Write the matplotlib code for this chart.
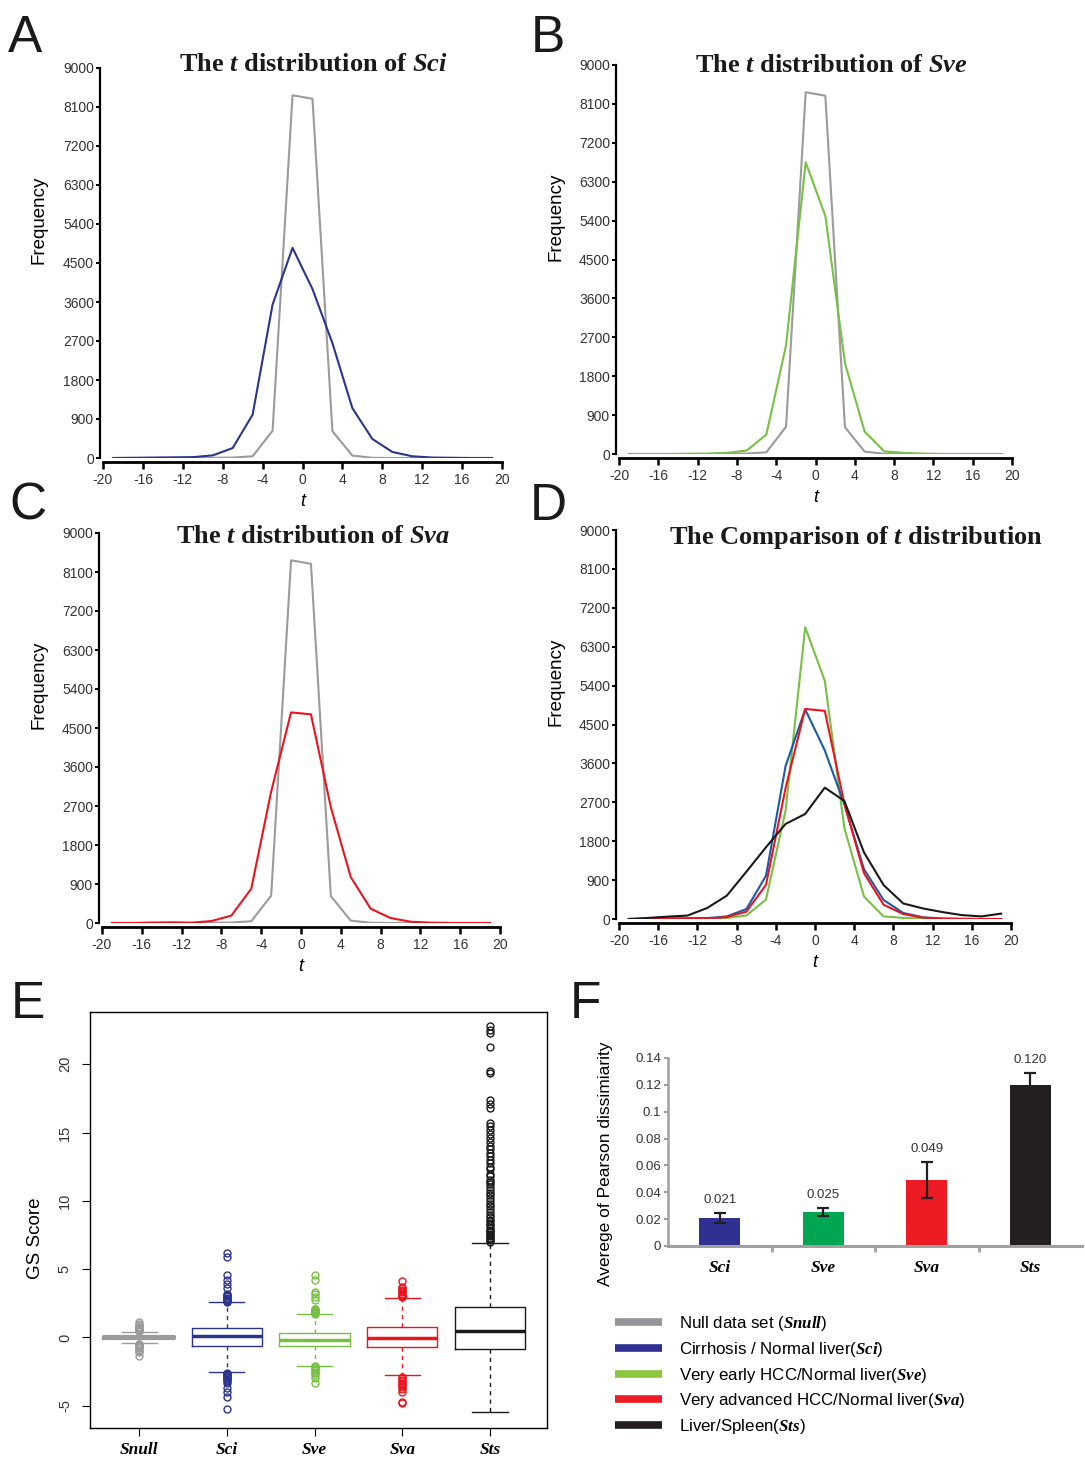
import matplotlib
matplotlib.use('Agg')
import matplotlib.pyplot as plt
from matplotlib.lines import Line2D

# global style
plt.rcParams['font.family'] = 'Liberation Sans'
plt.rcParams['axes.unicode_minus'] = False
plt.rcParams['mathtext.fontset'] = 'custom'
plt.rcParams['mathtext.rm'] = 'Liberation Serif:weight=bold'
plt.rcParams['mathtext.it'] = 'Liberation Serif:style=italic:weight=bold'
plt.rcParams['mathtext.bf'] = 'Liberation Serif:weight=bold'

# t distribution bins (bin centres)
tBins = [-19, -17, -15, -13, -11, -9, -7, -5, -3, -1, 1, 3, 5, 7, 9, 11, 13, 15, 17, 19]
freqNull = [0, 0, 0, 0, 0, 5, 10, 40, 630, 8370, 8290, 620, 55, 5, 0, 0, 0, 0, 0, 0]
freqSci = [0, 5, 10, 15, 20, 60, 230, 1000, 3540, 4850, 3900, 2650, 1150, 440, 140, 40, 10, 5, 0, 0]
freqSve = [0, 0, 0, 5, 10, 25, 80, 450, 2510, 6750, 5510, 2100, 520, 60, 25, 8, 0, 0, 0, 0]
freqSva = [0, 0, 10, 15, 8, 45, 170, 790, 3030, 4860, 4815, 2670, 1060, 330, 115, 30, 8, 0, 0, 0]
freqSts = [0, 25, 55, 80, 255, 540, 1095, 1660, 2200, 2430, 3040, 2730, 1540, 785, 360, 245, 160, 90, 60, 125]

tTicks = [-20, -16, -12, -8, -4, 0, 4, 8, 12, 16, 20]
freqTicks = [0, 900, 1800, 2700, 3600, 4500, 5400, 6300, 7200, 8100, 9000]

# GS score box statistics
gsNames = ['Snull', 'Sci', 'Sve', 'Sva', 'Sts']
gsMedian = [0.0, 0.12, -0.2, -0.02, 0.46]
gsQ1 = [-0.05, -0.61, -0.66, -0.68, -0.85]
gsQ3 = [0.05, 0.68, 0.32, 0.76, 2.24]
gsWhisLo = [-0.4, -2.54, -2.07, -2.76, -5.49]
gsWhisHi = [0.4, 2.56, 1.71, 2.9, 6.9]
gsFliers = [
    [0.45, 0.5, 0.55, 0.6, 0.65, 0.7, 0.75, 0.8, 0.9, 1.0, 1.1,
     -0.45, -0.5, -0.55, -0.6, -0.65, -0.7, -0.8, -0.9, -1.0, -1.1, -1.35],
    [2.6, 2.65, 2.7, 2.75, 2.8, 2.85, 2.9, 3.0, 3.05, 3.1, 3.2, 3.63, 3.88, 4.2, 4.56, 5.88, 6.2,
     -2.6, -2.65, -2.7, -2.75, -2.8, -2.9, -3.0, -3.05, -3.1, -3.2, -3.37, -3.73, -3.98, -4.34, -5.24],
    [1.75, 1.8, 1.85, 1.9, 1.95, 2.0, 2.05, 2.1, 2.73, 2.98, 3.2, 3.34, 4.2, 4.56,
     -2.1, -2.15, -2.2, -2.3, -2.4, -2.5, -2.6, -2.75, -3.0, -3.37],
    [2.95, 3.0, 3.05, 3.1, 3.2, 3.3, 3.4, 3.5, 3.6, 3.7, 4.12,
     -2.9, -3.0, -3.1, -3.2, -3.3, -3.4, -3.5, -3.6, -3.8, -4.0, -4.7, -4.83],
    [7.0, 7.1, 7.2, 7.3, 7.4, 7.5, 7.6, 7.7, 7.8, 7.9, 8.0, 8.2, 8.3, 8.5, 8.6, 8.8, 9.0, 9.2,
     9.4, 9.6, 9.8, 10.0, 10.2, 10.4, 10.6, 10.8, 11.0, 11.2, 11.4, 11.5, 11.8, 12.0, 12.3, 12.5,
     12.8, 13.0, 13.3, 13.5, 13.8, 14.0, 14.3, 14.6, 14.9, 15.2, 15.5, 15.7, 16.8, 17.1, 17.4,
     19.4, 19.5, 21.3, 22.3, 22.5, 22.8],
]
gsTicks = [-5, 0, 5, 10, 15, 20]

# Pearson dissimilarity bars
barNames = ['Sci', 'Sve', 'Sva', 'Sts']
barValues = [0.021, 0.025, 0.049, 0.120]
barErrors = [0.0038, 0.003, 0.0135, 0.0085]
barTicks = [0, 0.02, 0.04, 0.06, 0.08, 0.1, 0.12, 0.14]
barTickLabels = ['0', '0.02', '0.04', '0.06', '0.08', '0.1', '0.12', '0.14']

legendLabels = ['Null data set ($\\mathit{Snull}$)',
                'Cirrhosis / Normal liver($\\mathit{Sci}$)',
                'Very early HCC/Normal liver($\\mathit{Sve}$)',
                'Very advanced HCC/Normal liver($\\mathit{Sva}$)',
                'Liver/Spleen($\\mathit{Sts}$)']

# colours
cNull = '#9b9b9b'
cSci = '#2b3590'
cSciD = '#1a5aa8'
cSve = '#78c043'
cSva = '#e8141e'
cSts = '#1a1a1a'
textGray = '#333333'

W, H = 1085, 1460
fig = plt.figure(figsize=(W / 100, H / 100), dpi=100)


def px(left, top, right, bottom):
    return [left / W, 1 - bottom / H, (right - left) / W, (bottom - top) / H]


def plotTPanel(rect, series, title, titleX, titleY):
    ax = fig.add_axes(rect)
    for y, c in series:
        ax.plot(tBins, y, color=c, linewidth=1.5)
    ax.set_xlim(-20, 20)
    ax.set_ylim(0, 9000)
    ax.spines['top'].set_visible(False)
    ax.spines['right'].set_visible(False)
    ax.spines['left'].set_position(('outward', 2.5))
    ax.spines['bottom'].set_position(('outward', 3))
    ax.spines['left'].set_linewidth(1.6)
    ax.spines['bottom'].set_linewidth(2.0)
    ax.set_xticks(tTicks)
    ax.set_xticklabels([str(v) for v in tTicks])
    ax.set_yticks(freqTicks)
    ax.set_yticklabels([str(v) for v in freqTicks])
    ax.tick_params(axis='y', direction='out', length=3, width=1.4, labelsize=10,
                   pad=1, labelcolor=textGray)
    ax.tick_params(axis='x', direction='out', length=5, width=1.8, labelsize=10,
                   pad=3, labelcolor=textGray)
    ax.set_ylabel('Frequency', fontsize=13.5)
    ax.yaxis.set_label_coords(-0.138, 0.61)
    ax.set_xlabel('t', fontsize=13, fontstyle='italic')
    ax.xaxis.set_label_coords(0.5, -0.09)
    ax.text(titleX, titleY, title, transform=ax.transAxes, ha='center', va='center',
            fontsize=19, family='Liberation Serif', weight='bold', color='#1a1a1a')
    return ax


plotTPanel(px(103, 68, 502, 458), [(freqNull, cNull), (freqSci, cSci)],
           'The $\\mathit{t}$ distribution of $\\mathit{Sci}$', 0.526, 1.008)
plotTPanel(px(619, 65, 1012, 454), [(freqNull, cNull), (freqSve, cSve)],
           'The $\\mathit{t}$ distribution of $\\mathit{Sve}$', 0.54, 1.0)
plotTPanel(px(102, 533, 500, 923), [(freqNull, cNull), (freqSva, cSva)],
           'The $\\mathit{t}$ distribution of $\\mathit{Sva}$', 0.531, 0.99)
plotTPanel(px(619, 530, 1011, 919),
           [(freqSve, cSve), (freqSci, cSciD), (freqSva, cSva), (freqSts, cSts)],
           'The Comparison of $\\mathit{t}$ distribution', 0.605, 0.982)

# E: box plot of GS score
axE = fig.add_axes(px(90, 1012, 547, 1428))
boxColors = [cNull, cSci, cSve, cSva, cSts]
for i, name in enumerate(gsNames):
    stats = [{'med': gsMedian[i], 'q1': gsQ1[i], 'q3': gsQ3[i],
              'whislo': gsWhisLo[i], 'whishi': gsWhisHi[i],
              'fliers': gsFliers[i], 'label': name}]
    c = boxColors[i]
    boxLw = 3.0 if i == 0 else 1.0
    axE.bxp(stats, positions=[i + 1], widths=0.8, capwidths=0.4,
            boxprops=dict(color=c, linewidth=boxLw),
            medianprops=dict(color=c, linewidth=2.5),
            whiskerprops=dict(color=c, linewidth=1.0, linestyle=(0, (3, 3))),
            capprops=dict(color=c, linewidth=1.0),
            flierprops=dict(marker='o', markerfacecolor='none', markeredgecolor=c,
                            markersize=5, markeredgewidth=1.0))
axE.set_xlim(0.44, 5.65)
axE.set_ylim(-6.63, 23.83)
axE.set_xticks([1, 2, 3, 4, 5])
axE.set_xticklabels(gsNames, family='Liberation Serif', weight='bold', style='italic',
                    fontsize=12.5)
axE.set_yticks(gsTicks)
axE.set_yticklabels([str(v) for v in gsTicks], rotation=90, va='center')
axE.tick_params(axis='y', length=6, pad=7, labelsize=10.5, labelcolor=textGray)
axE.tick_params(axis='x', length=6, pad=4)
for s in axE.spines.values():
    s.set_linewidth(1.0)
axE.set_ylabel('GS Score', fontsize=13.5)
axE.yaxis.set_label_coords(-0.1, 0.457)

# F: bar chart of Pearson dissimilarity
axF = fig.add_axes(px(668, 1058, 1082, 1246))
barColors = ['#2e3192', '#00a651', '#ed1c24', '#231f20']
xF = list(range(len(barNames)))
axF.bar(xF, barValues, width=0.4, color=barColors, yerr=barErrors,
        error_kw=dict(ecolor='#231f20', elinewidth=1.6, capsize=4, capthick=1.6))
for x, v, e in zip(xF, barValues, barErrors):
    axF.annotate('%.3f' % v, (x, v + e), xytext=(0, 5), textcoords='offset points',
                 ha='center', va='bottom', fontsize=9.5, color=textGray)
axF.set_xlim(-0.5, 3.5)
axF.set_ylim(0, 0.14)
axF.spines['top'].set_visible(False)
axF.spines['right'].set_visible(False)
axF.spines['left'].set_color('#a0a0a0')
axF.spines['bottom'].set_color('#a0a0a0')
axF.spines['left'].set_linewidth(1.8)
axF.spines['bottom'].set_linewidth(2.2)
axF.set_yticks(barTicks)
axF.set_yticklabels(barTickLabels)
axF.tick_params(axis='y', length=3, width=1.5, color='#a0a0a0', pad=2,
                labelsize=9.5, labelcolor=textGray)
axF.set_xticks(xF)
axF.set_xticklabels(barNames, family='Liberation Serif', weight='bold', style='italic',
                    fontsize=12.5)
axF.tick_params(axis='x', length=0, pad=10)
axF.set_xticks([0.5, 1.5, 2.5], minor=True)
axF.tick_params(axis='x', which='minor', length=4, width=2, color='#a0a0a0')
axF.set_ylabel('Averege of Pearson dissimiarity', fontsize=12.5)
axF.yaxis.set_label_coords(-0.133, 0.44)

# legend
legendColors = ['#939598', '#2e3192', '#8dc63f', '#ed1c24', '#231f20']
handles = [Line2D([0], [0], color=c, linewidth=5.5, solid_capstyle='butt') for c in legendColors]
fig.legend(handles, legendLabels, loc='upper left', bbox_to_anchor=(615 / W, 1 - 1314 / H),
           frameon=False, fontsize=12.2, handlelength=2.8, handletextpad=0.95,
           labelspacing=0.4, borderaxespad=0, borderpad=0)

# panel letters
for letter, x, y in [('A', 8, 52), ('B', 531, 52), ('C', 9, 520), ('D', 530, 520),
                     ('E', 11, 1018), ('F', 570, 1018)]:
    fig.text(x / W, 1 - y / H, letter, fontsize=37, va='baseline', ha='left', color='#1a1a1a')

fig.savefig('out.png', dpi=100)
